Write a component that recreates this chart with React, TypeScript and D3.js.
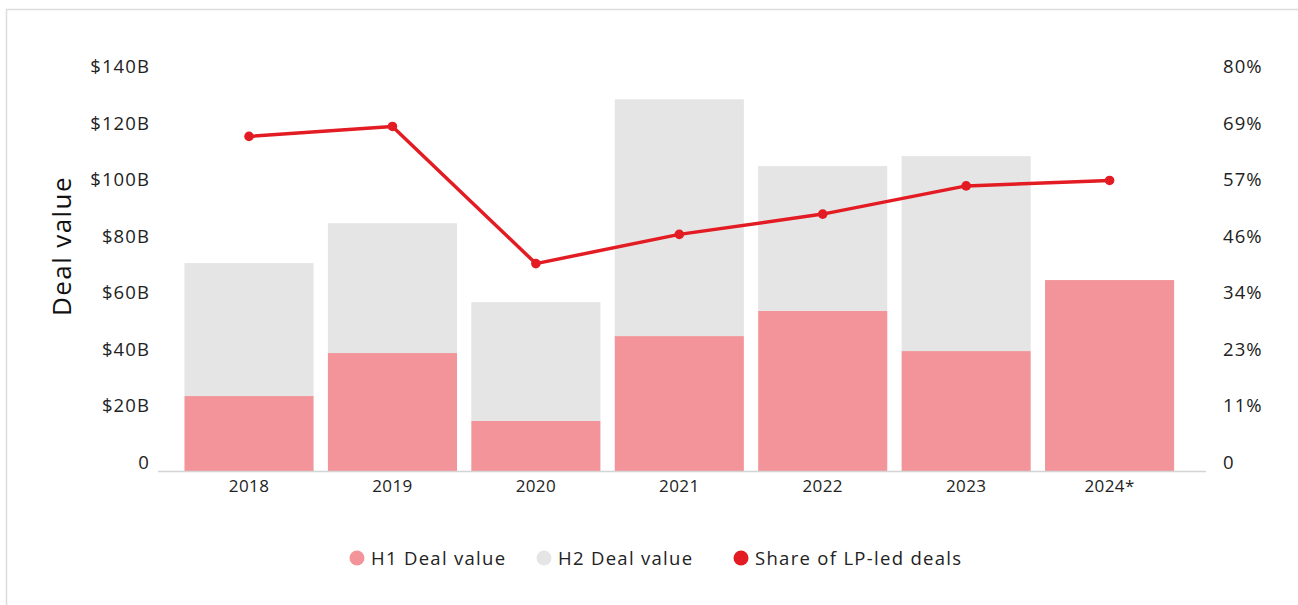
import React, { useEffect, useRef } from "react";
import * as d3 from "d3";

const years = ["2018", "2019", "2020", "2021", "2022", "2023", "2024*"];
const h1Values = [26.5, 41.7, 17.7, 47.7, 56.6, 42.4, 67.5];
const h2Values = [47.0, 45.9, 42.0, 83.7, 51.2, 68.9, 0];
const lpShare = [67.6, 69.6, 41.9, 47.8, 51.9, 57.6, 58.7];
const leftTicks = [0, 20, 40, 60, 80, 100, 120, 140];
const rightTicks = [0, 80 / 7, 160 / 7, 240 / 7, 320 / 7, 400 / 7, 480 / 7, 80];

const legendItems = [
  { label: "H1 Deal value", color: "#f29499" },
  { label: "H2 Deal value", color: "#e5e5e5" },
  { label: "Share of LP-led deals", color: "#e31b23" },
];

const FONT = "'Open Sans', sans-serif";

export default function App() {
  const ref = useRef<SVGSVGElement>(null);

  useEffect(() => {
    const svg = d3.select(ref.current);
    svg.selectAll("*").remove();

    // frame around the card
    svg
      .append("rect")
      .attr("x", 6.5)
      .attr("y", 9.5)
      .attr("width", 1320)
      .attr("height", 620)
      .attr("fill", "#fff")
      .attr("stroke", "#dcdcdc")
      .attr("stroke-width", 1.5);

    const x = d3
      .scaleBand()
      .domain(years)
      .range([177.3, 1181.3])
      .paddingInner(0.1)
      .paddingOuter(0.05);

    const y = d3.scaleLinear().domain([0, 140]).range([471, 75]);
    const y2 = d3.scaleLinear().domain([0, 80]).range([471, 75]);

    // left tick labels
    svg
      .append("g")
      .selectAll("text")
      .data(leftTicks)
      .enter()
      .append("text")
      .attr("x", 150)
      .attr("y", (d) => y(d) - 2)
      .attr("text-anchor", "end")
      .attr("font-family", FONT)
      .attr("font-size", 18.5)
      .attr("letter-spacing", 1.1)
      .attr("fill", "#222")
      .text((d) => (d === 0 ? "0" : "$" + d + "B"));

    // right tick labels
    svg
      .append("g")
      .selectAll("text")
      .data(rightTicks)
      .enter()
      .append("text")
      .attr("x", 1223)
      .attr("y", (d) => y2(d) - 2)
      .attr("text-anchor", "start")
      .attr("font-family", FONT)
      .attr("font-size", 18.5)
      .attr("letter-spacing", 1.1)
      .attr("fill", "#222")
      .text((d) => (d === 0 ? "0" : Math.round(d) + "%"));

    // axis title
    svg
      .append("text")
      .attr("transform", "translate(71,246) rotate(-90)")
      .attr("text-anchor", "middle")
      .attr("font-family", FONT)
      .attr("font-size", 26)
      .attr("letter-spacing", 1.4)
      .attr("fill", "#111")
      .text("Deal value");

    // stacked bars
    const bars = svg.append("g");
    bars
      .selectAll("rect.h1")
      .data(years)
      .enter()
      .append("rect")
      .attr("class", "h1")
      .attr("x", (d) => x(d)!)
      .attr("width", x.bandwidth())
      .attr("y", (d, i) => y(h1Values[i]))
      .attr("height", (d, i) => y(0) - y(h1Values[i]))
      .attr("fill", legendItems[0].color);
    bars
      .selectAll("rect.h2")
      .data(years)
      .enter()
      .append("rect")
      .attr("class", "h2")
      .attr("x", (d) => x(d)!)
      .attr("width", x.bandwidth())
      .attr("y", (d, i) => y(h1Values[i] + h2Values[i]))
      .attr("height", (d, i) => y(h1Values[i]) - y(h1Values[i] + h2Values[i]))
      .attr("fill", legendItems[1].color);

    // x axis baseline
    svg
      .append("line")
      .attr("x1", 158)
      .attr("x2", 1206)
      .attr("y1", 471.5)
      .attr("y2", 471.5)
      .attr("stroke", "#d4d4d4")
      .attr("stroke-width", 1.5);

    svg
      .append("g")
      .selectAll("text")
      .data(years)
      .enter()
      .append("text")
      .attr("x", (d) => x(d)! + x.bandwidth() / 2)
      .attr("y", 492)
      .attr("text-anchor", "middle")
      .attr("font-family", FONT)
      .attr("font-size", 17)
      .attr("letter-spacing", 0.4)
      .attr("fill", "#222")
      .text((d) => d);

    // share line
    const cx = (i: number) => x(years[i])! + x.bandwidth() / 2;
    const line = d3
      .line<number>()
      .x((d, i) => cx(i))
      .y((d) => y2(d));
    svg
      .append("path")
      .datum(lpShare)
      .attr("d", line)
      .attr("fill", "none")
      .attr("stroke", legendItems[2].color)
      .attr("stroke-width", 3.5)
      .attr("stroke-linejoin", "round");
    svg
      .append("g")
      .selectAll("circle")
      .data(lpShare)
      .enter()
      .append("circle")
      .attr("cx", (d, i) => cx(i))
      .attr("cy", (d) => y2(d))
      .attr("r", 4.8)
      .attr("fill", legendItems[2].color);

    // legend
    const legendX = [357, 544, 741];
    const lg = svg
      .append("g")
      .selectAll("g")
      .data(legendItems)
      .enter()
      .append("g")
      .attr("transform", (d, i) => `translate(${legendX[i]},558)`);
    lg.append("circle").attr("r", 7.5).attr("fill", (d) => d.color);
    lg.append("text")
      .attr("x", 14)
      .attr("y", 6.5)
      .attr("font-family", FONT)
      .attr("font-size", 18.5)
      .attr("letter-spacing", 1.3)
      .attr("fill", "#222")
      .text((d) => d.label);
  }, []);

  return (
    <svg
      ref={ref}
      width={1298}
      height={605}
      style={{ position: "absolute", left: 0, top: 0, background: "#fff" }}
    />
  );
}
